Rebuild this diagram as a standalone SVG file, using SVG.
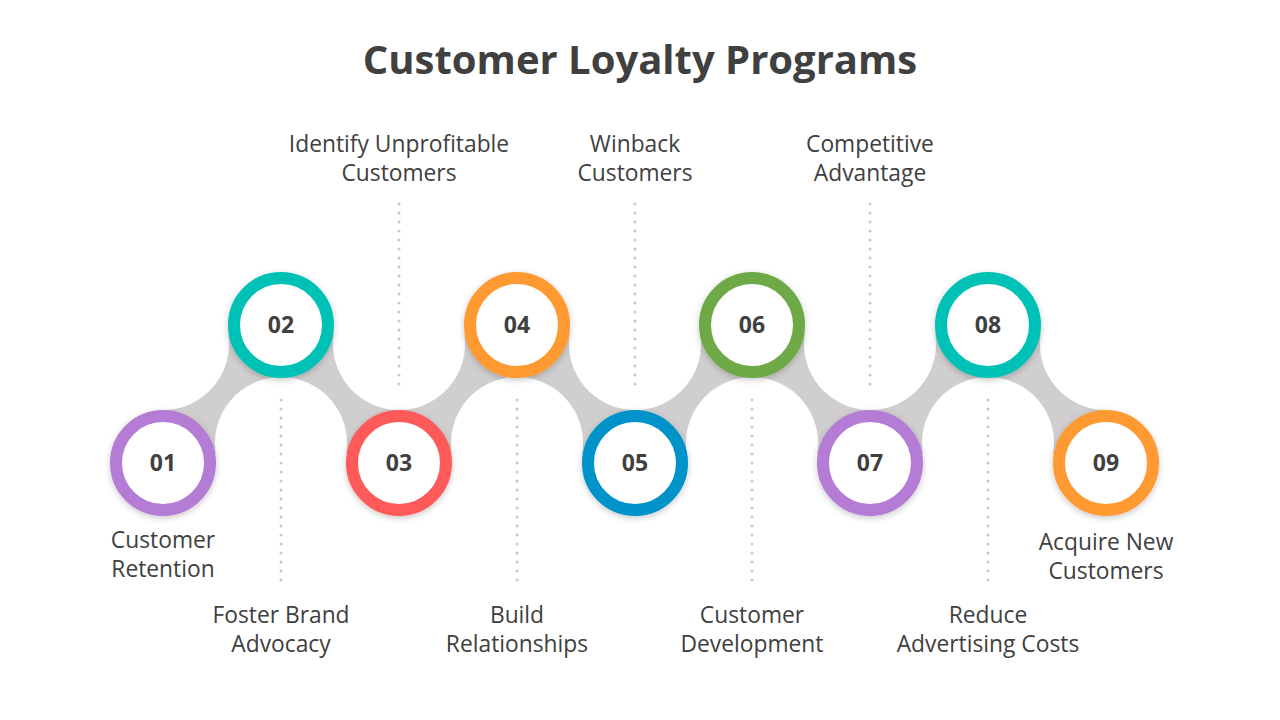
<svg xmlns="http://www.w3.org/2000/svg" width="1280" height="720" viewBox="0 0 1280 720">
<defs>
<filter id="sh" x="-30%" y="-30%" width="160%" height="160%">
<feDropShadow dx="0" dy="2" stdDeviation="3" flood-color="#000" flood-opacity="0.22"/>
</filter>
<style>
.t{font-family:"Open Sans","Noto Sans",sans-serif;font-size:40px;font-weight:700;fill:#404040;text-anchor:middle}
.l{font-family:"Open Sans","Noto Sans",sans-serif;font-size:22.8px;fill:#404040;text-anchor:middle}
.n{font-family:"Open Sans","Noto Sans",sans-serif;font-size:23px;font-weight:700;fill:#404040;text-anchor:middle}
.ring{fill:#fff;stroke-width:12;filter:url(#sh)}
.dot{stroke:#C9C9C9;stroke-width:3;stroke-linecap:round;stroke-dasharray:0 9;fill:none}
.band{fill:#D0CECE}
</style>
</defs>
<rect width="1280" height="720" fill="#fff"/>
<text class="t" x="640" y="74">Customer Loyalty Programs</text>
<g id="connectors">
<path class="band" d="M163,410 A66,66 0 0 0 228.2,333.5 L281,325 L281,377 A66,66 0 0 0 215.9,454 L163,463 Z"/>
<path class="band" d="M281,325 L333.8,333.5 A66,66 0 0 0 399,410 L399,463 L346.1,454 A66,66 0 0 0 281,377 Z"/>
<path class="band" d="M399,410 A66,66 0 0 0 464.2,333.5 L517,325 L517,377 A66,66 0 0 0 451.9,454 L399,463 Z"/>
<path class="band" d="M517,325 L569.8,333.5 A66,66 0 0 0 635,410 L635,463 L582.1,454 A66,66 0 0 0 517,377 Z"/>
<path class="band" d="M635,410 A66,66 0 0 0 700.2,333.5 L752,325 L752,377 A66,66 0 0 0 686.9,454 L635,463 Z"/>
<path class="band" d="M752,325 L804.8,333.5 A66,66 0 0 0 870,410 L870,463 L817.1,454 A66,66 0 0 0 752,377 Z"/>
<path class="band" d="M870,410 A66,66 0 0 0 935.2,333.5 L988,325 L988,377 A66,66 0 0 0 922.9,454 L870,463 Z"/>
<path class="band" d="M988,325 L1040.8,333.5 A66,66 0 0 0 1106,410 L1106,463 L1053.1,454 A66,66 0 0 0 988,377 Z"/>
<line class="dot" x1="399" y1="204" x2="399" y2="388"/>
<line class="dot" x1="635" y1="204" x2="635" y2="388"/>
<line class="dot" x1="870" y1="204" x2="870" y2="388"/>
<line class="dot" x1="281" y1="400" x2="281" y2="584"/>
<line class="dot" x1="517" y1="400" x2="517" y2="584"/>
<line class="dot" x1="752" y1="400" x2="752" y2="584"/>
<line class="dot" x1="988" y1="400" x2="988" y2="584"/>
</g>
<g id="n01"><circle class="ring" cx="163" cy="463" r="47" stroke="#B57BD6"/><text class="n" x="163" y="471">01</text>
<text class="l" x="163" y="548">Customer</text><text class="l" x="163" y="577">Retention</text></g>
<g id="n02"><circle class="ring" cx="281" cy="325" r="47" stroke="#00C1B5"/><text class="n" x="281" y="333">02</text>
<text class="l" x="281" y="623">Foster Brand</text><text class="l" x="281" y="652">Advocacy</text></g>
<g id="n03"><circle class="ring" cx="399" cy="463" r="47" stroke="#FF5A5A"/><text class="n" x="399" y="471">03</text>
<text class="l" x="399" y="152">Identify Unprofitable</text><text class="l" x="399" y="181">Customers</text></g>
<g id="n04"><circle class="ring" cx="517" cy="325" r="47" stroke="#FF9933"/><text class="n" x="517" y="333">04</text>
<text class="l" x="517" y="623">Build</text><text class="l" x="517" y="652">Relationships</text></g>
<g id="n05"><circle class="ring" cx="635" cy="463" r="47" stroke="#0093C9"/><text class="n" x="635" y="471">05</text>
<text class="l" x="635" y="152">Winback</text><text class="l" x="635" y="181">Customers</text></g>
<g id="n06"><circle class="ring" cx="752" cy="325" r="47" stroke="#6DAA46"/><text class="n" x="752" y="333">06</text>
<text class="l" x="752" y="623">Customer</text><text class="l" x="752" y="652">Development</text></g>
<g id="n07"><circle class="ring" cx="870" cy="463" r="47" stroke="#B57BD6"/><text class="n" x="870" y="471">07</text>
<text class="l" x="870" y="152">Competitive</text><text class="l" x="870" y="181">Advantage</text></g>
<g id="n08"><circle class="ring" cx="988" cy="325" r="47" stroke="#00C1B5"/><text class="n" x="988" y="333">08</text>
<text class="l" x="988" y="623">Reduce</text><text class="l" x="988" y="652">Advertising Costs</text></g>
<g id="n09"><circle class="ring" cx="1106" cy="463" r="47" stroke="#FF9933"/><text class="n" x="1106" y="471">09</text>
<text class="l" x="1106" y="550">Acquire New</text><text class="l" x="1106" y="579">Customers</text></g>
</svg>
